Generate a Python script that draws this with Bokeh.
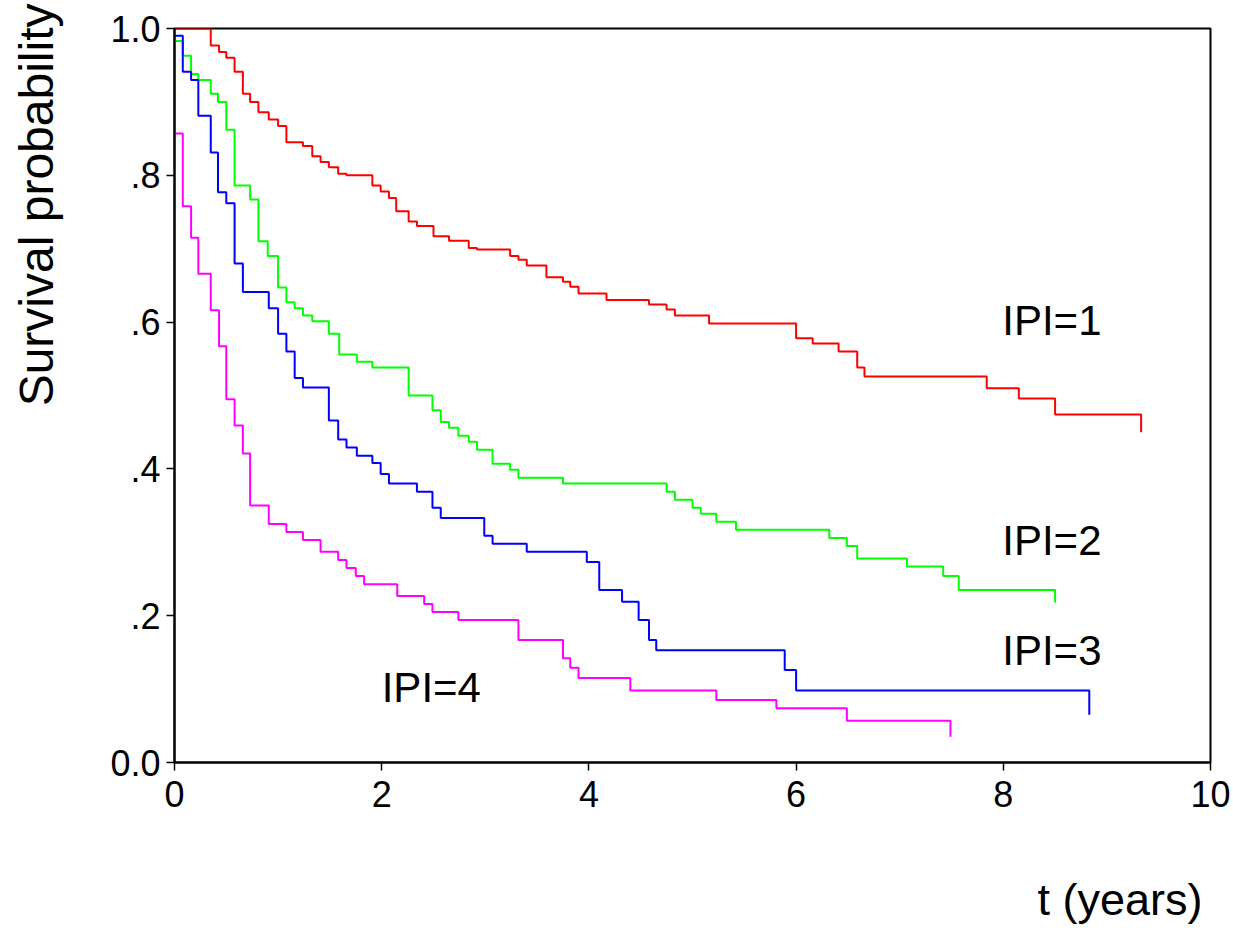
from bokeh.plotting import figure
from bokeh.models import Label, Range1d, FixedTicker, Title
from bokeh.embed import file_html
from bokeh.resources import INLINE

# Kaplan-Meier survival estimates by International Prognostic Index group
ipi1_t = [0, 0.35, 0.43, 0.50, 0.58, 0.66, 0.73, 0.81, 0.91, 1.00,
          1.08, 1.24, 1.33, 1.41, 1.49, 1.58, 1.66, 1.91, 1.99, 2.07,
          2.14, 2.26, 2.34, 2.50, 2.65, 2.84, 2.92, 3.24, 3.32, 3.40,
          3.59, 3.75, 3.82, 3.90, 4.17, 4.58, 4.75, 4.83, 5.16, 6.00,
          6.16, 6.41, 6.59, 6.66, 7.84, 8.15, 8.50, 9.33]
ipi1_s = [1.0, 0.977, 0.968, 0.960, 0.941, 0.911, 0.900, 0.886, 0.876, 0.867,
          0.845, 0.840, 0.826, 0.818, 0.811, 0.802, 0.800, 0.786, 0.778, 0.769,
          0.751, 0.737, 0.731, 0.717, 0.711, 0.701, 0.699, 0.690, 0.685, 0.677,
          0.661, 0.655, 0.648, 0.639, 0.630, 0.624, 0.617, 0.609, 0.598, 0.578,
          0.571, 0.560, 0.538, 0.526, 0.510, 0.496, 0.474, 0.450]

ipi2_t = [0, 0.08, 0.16, 0.23, 0.35, 0.42, 0.50, 0.58, 0.73, 0.81,
          0.90, 1.00, 1.08, 1.16, 1.24, 1.33, 1.49, 1.59, 1.76, 1.91,
          2.26, 2.49, 2.57, 2.65, 2.74, 2.84, 2.92, 3.07, 3.24, 3.32,
          3.75, 4.75, 4.83, 5.00, 5.08, 5.23, 5.42, 6.32, 6.49, 6.59,
          7.07, 7.42, 7.57, 8.50]
ipi2_s = [0.983, 0.963, 0.938, 0.930, 0.911, 0.900, 0.862, 0.786, 0.767, 0.710,
          0.690, 0.647, 0.627, 0.619, 0.609, 0.601, 0.584, 0.556, 0.546, 0.538,
          0.500, 0.480, 0.464, 0.456, 0.445, 0.437, 0.426, 0.407, 0.399, 0.388,
          0.380, 0.369, 0.358, 0.347, 0.339, 0.328, 0.317, 0.306, 0.295, 0.278,
          0.267, 0.254, 0.235, 0.218]

ipi3_t = [0, 0.08, 0.16, 0.23, 0.35, 0.42, 0.50, 0.58, 0.66, 0.91,
          1.00, 1.08, 1.16, 1.24, 1.49, 1.58, 1.66, 1.76, 1.91, 1.99,
          2.07, 2.34, 2.49, 2.57, 2.99, 3.07, 3.40, 3.98, 4.10, 4.32,
          4.48, 4.58, 4.65, 5.89, 6.00, 8.83]
ipi3_s = [0.990, 0.941, 0.930, 0.881, 0.831, 0.777, 0.762, 0.680, 0.641, 0.619,
          0.584, 0.560, 0.524, 0.511, 0.466, 0.440, 0.429, 0.418, 0.408, 0.393,
          0.380, 0.369, 0.347, 0.333, 0.309, 0.298, 0.287, 0.273, 0.235, 0.219,
          0.194, 0.167, 0.153, 0.126, 0.098, 0.065]

ipi4_t = [0, 0.08, 0.16, 0.23, 0.35, 0.43, 0.50, 0.58, 0.66, 0.73,
          0.91, 1.08, 1.24, 1.41, 1.58, 1.66, 1.75, 1.83, 2.15, 2.41,
          2.49, 2.74, 3.32, 3.75, 3.82, 3.90, 4.40, 5.23, 5.81, 6.49,
          7.49]
ipi4_s = [0.857, 0.758, 0.715, 0.666, 0.616, 0.567, 0.495, 0.459, 0.421, 0.350,
          0.325, 0.314, 0.303, 0.287, 0.276, 0.265, 0.254, 0.243, 0.227, 0.216,
          0.205, 0.194, 0.167, 0.142, 0.129, 0.115, 0.098, 0.085, 0.074, 0.057,
          0.035]

group_names = ["IPI=1", "IPI=2", "IPI=3", "IPI=4"]
group_colors = ["#FF0000", "#00FF00", "#0000FF", "#FF00FF"]
# where each group's name is written (time, survival)
name_x = [7.99, 7.99, 7.99, 2.0]
name_y = [0.602, 0.302, 0.153, 0.102]

x_ticks = [0, 2, 4, 6, 8, 10]
y_ticks = [0.0, 0.2, 0.4, 0.6, 0.8, 1.0]
y_tick_labels = ["0.0", ".2", ".4", ".6", ".8", "1.0"]

FONT = "Liberation Sans"

p = figure(frame_width=1036, frame_height=734,
           min_border_left=174, min_border_right=23,
           min_border_top=28, min_border_bottom=169,
           x_range=Range1d(0, 10), y_range=Range1d(0, 1),
           output_backend="svg", toolbar_location=None,
           background_fill_color="white", border_fill_color="white")

p.xgrid.visible = False
p.ygrid.visible = False
p.outline_line_color = "black"
p.outline_line_width = 2

for ax in (p.xaxis[0], p.yaxis[0]):
    ax.axis_line_color = "black"
    ax.axis_line_width = 2
    ax.major_tick_line_color = "black"
    ax.major_tick_line_width = 1.5
    ax.major_tick_in = 0
    ax.major_tick_out = 8
    ax.minor_tick_line_color = None
    ax.major_label_text_font = FONT
    ax.major_label_text_font_size = "36px"
    ax.major_label_text_color = "black"

p.xaxis.ticker = FixedTicker(ticks=x_ticks)
p.xaxis.major_label_standoff = 10
p.yaxis.ticker = FixedTicker(ticks=y_ticks)
p.yaxis.major_label_overrides = {v: s for v, s in zip(y_ticks, y_tick_labels)}
p.yaxis.major_label_standoff = 6

series = [(ipi1_t, ipi1_s), (ipi2_t, ipi2_s), (ipi3_t, ipi3_s), (ipi4_t, ipi4_s)]
for (t, s), color in zip(series, group_colors):
    p.step(t, s, mode="after", line_color=color, line_width=2)

for name, x, y in zip(group_names, name_x, name_y):
    p.add_layout(Label(x=x, y=y, text=name, text_font=FONT, text_font_size="42px",
                       text_color="black", text_align="left",
                       text_baseline="alphabetic"))


def gap(size):
    """Blank title used as a fixed-size spacer in a side panel."""
    return Title(text=" ", text_font_size="1px", standoff=size)


# axis titles sit at the far ends of their axes, pushed outward by a spacer
p.add_layout(gap(59), "below")
p.add_layout(Title(text="t (years)", align="right", offset=8, standoff=0,
                   text_font=FONT, text_font_size="45px", text_font_style="normal",
                   text_color="black"), "below")
p.add_layout(gap(42), "left")
p.add_layout(Title(text="Survival probability", align="right", offset=-25, standoff=0,
                   text_font=FONT, text_font_size="48px", text_font_style="normal",
                   text_color="black"), "left")

open("out.html", "w").write(file_html(p, INLINE))
